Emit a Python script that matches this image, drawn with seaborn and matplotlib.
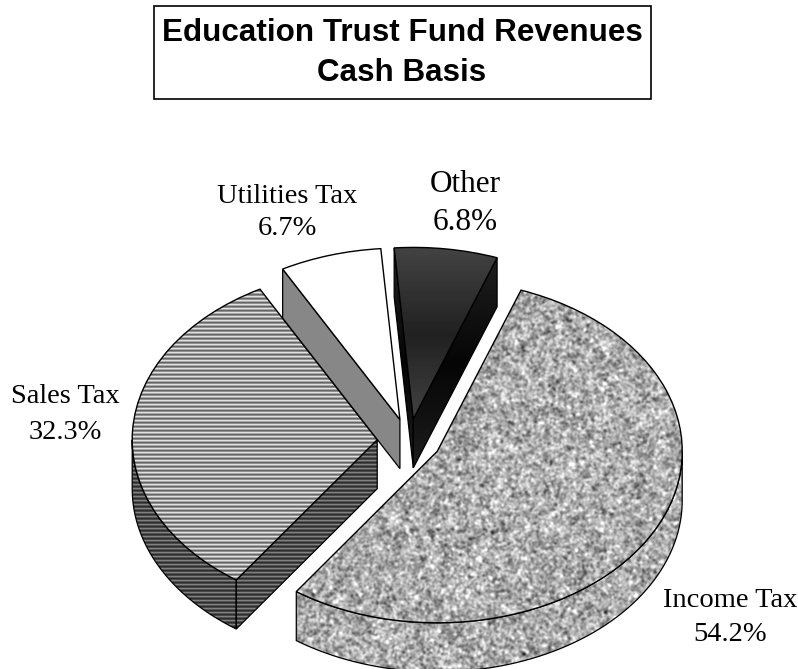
import numpy as np
import matplotlib
matplotlib.use("Agg")
import matplotlib.pyplot as plt
from matplotlib.patches import PathPatch
from matplotlib.path import Path
import seaborn as sns

categories = ["Income Tax", "Sales Tax", "Utilities Tax", "Other"]
shares = [54.2, 32.3, 6.7, 6.8]
title_lines = ["Education Trust Fund Revenues", "Cash Basis"]

sns.set_theme(style="white")
plt.rcParams["font.family"] = ["Liberation Serif", "DejaVu Serif"]

W, H = 798, 669
fig = plt.figure(figsize=(W / 100, H / 100), dpi=100)
ax = fig.add_axes([0, 0, 1, 1])

RX, RY = 245.0, 171.5      # pixels per data unit (tilted pie)
CX, CY = 409.0, 441.0      # pie centre in pixels
DEPTH = 49.0 / RY          # height of the extrusion in data units

wedges, _ = ax.pie(shares, explode=[0.13] * len(shares), startangle=70,
                   counterclock=False, radius=1.0,
                   wedgeprops=dict(facecolor="none", edgecolor="black", linewidth=1.0))
ax.set_aspect("auto")
limits = ((-CX / RX, (W - CX) / RX), (-(H - CY) / RY, CY / RY))

# ---------- textures ----------
rng = np.random.default_rng(7)
def blur(a, sigma):
    fy = np.fft.fftfreq(a.shape[0])[:, None]
    fx = np.fft.rfftfreq(a.shape[1])[None, :]
    return np.fft.irfft2(np.fft.rfft2(a) * np.exp(-2 * (np.pi * sigma) ** 2 * (fx ** 2 + fy ** 2)), s=a.shape)

fine = blur(rng.normal(size=(H, W)), 1.1)
broad = blur(rng.normal(size=(H, W)), 3.0)
stone = 0.68 + 0.11 * fine / fine.std() + 0.035 * broad / broad.std()

def stripes(levels):
    col = np.asarray(levels)[np.arange(H) % len(levels)]
    return np.tile(col[:, None], (1, 2))

def band(y0, y1, v0, vm, v1):
    py = np.arange(H, dtype=float)
    t = np.clip((py - y0) / (y1 - y0), 0, 1)
    v = np.where(t < 0.5, v0 + (vm - v0) * t * 2, vm + (v1 - vm) * (t - 0.5) * 2)
    return np.tile(v[:, None], (1, 2))

textures = {
    "Income Tax": (stone, stone),
    "Sales Tax": (stripes([0.88, 0.66, 0.40, 0.56]), stripes([0.50, 0.33, 0.17, 0.28])),
    "Utilities Tax": (np.ones((2, 2)), np.full((2, 2), 0.53)),
    "Other": (band(248, 420, 0.26, 0.13, 0.26), band(258, 470, 0.12, 0.02, 0.12)),
}

def paint(tex, clip, z):
    im = ax.imshow(tex, cmap="gray", vmin=0, vmax=1, extent=(*limits[0], *limits[1]),
                   origin="upper", aspect="auto", interpolation="nearest", zorder=z)
    im.set_clip_path(clip)

def wall(poly, tex, z):
    patch = PathPatch(Path(poly, closed=False), facecolor="none", edgecolor="black",
                      linewidth=0.9, transform=ax.transData, zorder=z + 0.1)
    ax.add_patch(patch)
    paint(tex, patch, z)

def closed(pts):
    pts = np.asarray(pts)
    return np.vstack([pts, pts[0]])

drawing_order = ["Sales Tax", "Utilities Tax", "Other", "Income Tax"]
for rank, name in enumerate(drawing_order):
    w = wedges[categories.index(name)]
    top, side = textures[name]
    cx, cy = w.center
    z = 2 + rank
    down = np.array([0, -DEPTH])
    apex = np.array([cx, cy])

    # straight cut faces that look towards the viewer
    for t, seen in ((w.theta1, np.cos(np.radians(w.theta1)) > 0),
                    (w.theta2, np.cos(np.radians(w.theta2)) < 0)):
        if seen:
            rim = apex + w.r * np.array([np.cos(np.radians(t)), np.sin(np.radians(t))])
            wall(closed([apex, rim, rim + down, apex + down]), side, z)

    # curved outer face, only the front half of the rim
    for k in (-1, 0, 1):
        a = max(w.theta1, 180 + 360 * k)
        b = min(w.theta2, 360 + 360 * k)
        if b > a:
            th = np.radians(np.linspace(a, b, 200))
            upper = np.column_stack([cx + w.r * np.cos(th), cy + w.r * np.sin(th)])
            wall(closed(np.vstack([upper, (upper + down)[::-1]])), side, z)

    # top face
    w.set_zorder(z + 0.3)
    paint(top, w, z + 0.2)

ax.set_xlim(*limits[0])
ax.set_ylim(*limits[1])
ax.axis("off")

# ---------- labels ----------
label_style = {  # centre x, last baseline y, font size, line spacing
    "Income Tax": (730, 641, 20.5, 1.49),
    "Sales Tax": (65, 439, 20.5, 1.56),
    "Utilities Tax": (287, 235, 20.5, 1.36),
    "Other": (465, 230, 22.5, 1.43),
}
for name, value in zip(categories, shares):
    x, y, size, spacing = label_style[name]
    fig.text(x / W, 1 - y / H, f"{name}\n{value}%", ha="center", va="baseline",
             multialignment="center", fontsize=size, linespacing=spacing, color="black")

# ---------- title ----------
fig.patches.append(plt.Rectangle((154 / W, 1 - 99 / H), (651 - 154) / W, 93 / H,
                                 transform=fig.transFigure, facecolor="white",
                                 edgecolor="black", linewidth=1.2))
fig.text(402 / W, 1 - 53 / H, "\n".join(title_lines), ha="center", va="center",
         fontsize=22.6, fontweight="bold", family=["Liberation Sans", "DejaVu Sans"],
         linespacing=1.42, color="black")

fig.savefig("out.png", dpi=100)
